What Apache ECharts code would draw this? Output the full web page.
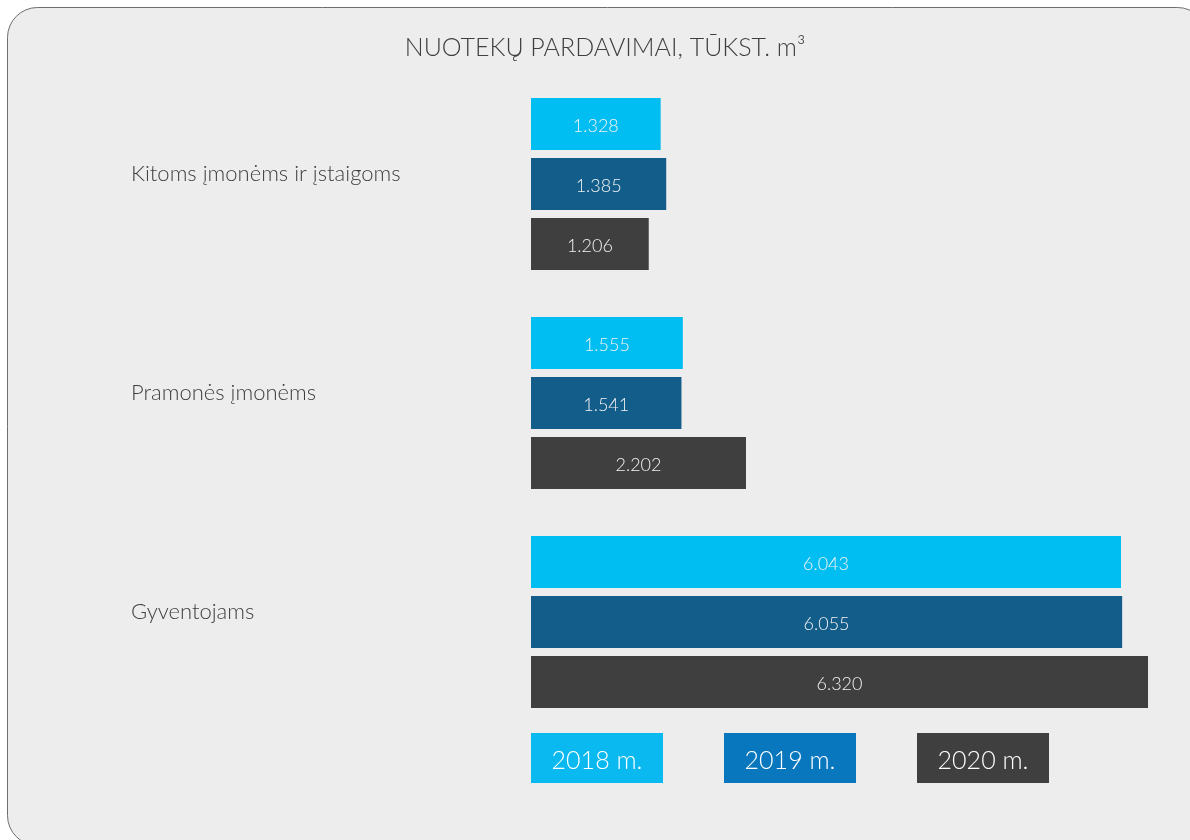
<!DOCTYPE html>
<html>
<head>
<meta charset="utf-8">
<script src="https://cdn.jsdelivr.net/npm/echarts@6/dist/echarts.min.js"></script>
<style>
html,body{margin:0;padding:0;background:#ffffff;}
#chart{width:1190px;height:840px;}
</style>
</head>
<body>
<div id="chart"></div>
<script>
const titleText = 'NUOTEKŲ PARDAVIMAI, TŪKST. m³';
const categories = ['Kitoms įmonėms ir įstaigoms', 'Pramonės įmonėms', 'Gyventojams'];
const seriesNames = ['2018 m.', '2019 m.', '2020 m.'];
const values2018 = [1.328, 1.555, 6.043];
const values2019 = [1.385, 1.541, 6.055];
const values2020 = [1.206, 2.202, 6.320];

const barColors = ['#00bdf2', '#135d8a', '#3f3f3f'];
const legendColors = ['#0ab9ef', '#0877bd', '#3f3f3f'];
const FONT = 'Lato, "Open Sans", sans-serif';

const chart = echarts.init(document.getElementById('chart'));
const allValues = [values2018, values2019, values2020];

const legendRich = {};
seriesNames.forEach((n, i) => {
  legendRich['s' + i] = {
    backgroundColor: legendColors[i],
    color: '#ffffff',
    fontSize: 25,
    fontWeight: 300,
    fontFamily: FONT,
    width: 132,
    height: 44,
    lineHeight: 44,
    padding: [6, 0, 0, 0],
    align: 'center'
  };
});

chart.setOption({
  animation: false,
  textStyle: { fontFamily: FONT },
  graphic: [{
    type: 'rect',
    z: -10,
    silent: true,
    shape: { x: 7.5, y: 7.5, width: 1200, height: 838, r: 30 },
    style: { fill: '#ededed', stroke: '#6e6e6e', lineWidth: 1 }
  }],
  title: {
    text: titleText,
    left: 600,
    textAlign: 'center',
    top: 30,
    textStyle: { fontFamily: FONT, fontSize: 25, fontWeight: 300, color: '#404040' }
  },
  legend: {
    left: 526,
    top: 733,
    padding: 0,
    itemGap: 56,
    itemWidth: 0,
    itemHeight: 0,
    icon: 'rect',
    data: seriesNames,
    formatter: name => '{s' + seriesNames.indexOf(name) + '|' + name + '}',
    textStyle: { rich: legendRich }
  },
  grid: { left: 531, right: 24.4, top: 74.5, bottom: 108.5 },
  xAxis: {
    type: 'value',
    min: 0,
    max: 6.5,
    show: false,
    splitLine: { show: false }
  },
  yAxis: {
    type: 'category',
    inverse: true,
    data: categories,
    axisLine: { show: false },
    axisTick: { show: false },
    axisLabel: {
      align: 'left',
      margin: 400,
      verticalAlign: 'bottom',
      lineHeight: 20,
      fontSize: 22,
      fontWeight: 300,
      fontFamily: FONT,
      color: '#404040'
    }
  },
  series: seriesNames.map((n, i) => ({
    name: n,
    type: 'bar',
    data: allValues[i],
    barGap: '15.4%',
    barCategoryGap: '21.5%',
    itemStyle: { color: barColors[i] },
    label: {
      show: true,
      position: 'inside',
      offset: [0, 2],
      color: '#f2f2f2',
      fontSize: 18,
      fontWeight: 300,
      fontFamily: FONT,
      formatter: p => p.value.toFixed(3)
    }
  }))
});
</script>
</body>
</html>
